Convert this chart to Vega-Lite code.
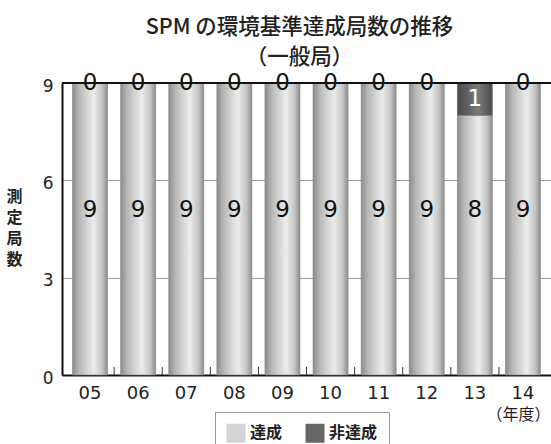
{
  "$schema": "https://vega.github.io/schema/vega-lite/v6.json",
  "width": 489,
  "height": 292,
  "autosize": "none",
  "padding": {"left": 62, "top": 83, "right": 0, "bottom": 69},
  "background": "white",
  "config": {
    "view": {"stroke": null},
    "font": "Noto Sans CJK JP",
    "axisX": {
      "labelAngle": 0, "labelFontSize": 18, "labelFont": "DejaVu Sans", "labelColor": "#222",
      "labelPadding": 9, "ticks": false, "domainColor": "#111", "domainWidth": 2, "zindex": 1, "grid": false,
      "titleX": 456, "titleY": 39, "titleAlign": "center", "titleBaseline": "middle",
      "titleFontSize": 16, "titleFontWeight": "normal", "titleColor": "#222", "titleFont": "Noto Sans CJK JP"
    },
    "axisY": {
      "titleAngle": 0, "titleX": -48, "titleY": 105, "titleAlign": "center", "titleBaseline": "top",
      "titleFontSize": 16, "titleFontWeight": "bold", "titleLineHeight": 21, "titleColor": "#222",
      "titleFont": "Noto Sans CJK JP",
      "ticks": false, "labelPadding": 9, "labelFontSize": 17, "labelOffset": 3,
      "labelFont": "DejaVu Sans", "labelColor": "#222",
      "grid": true, "gridColor": "#999", "gridWidth": 1, "domainColor": "#111", "domainWidth": 2, "zindex": 0
    }
  },
  "title": {
    "text": ["SPM の環境基準達成局数の推移", "（一般局）"],
    "fontSize": 21.5,
    "fontWeight": 500,
    "color": "#222",
    "lineHeight": 30,
    "anchor": "middle",
    "frame": "group",
    "dx": -7,
    "offset": 4,
    "font": "Noto Sans CJK JP"
  },
  "data": {
    "values": [
      {"year": "05", "type": "達成", "value": 9, "order": 1},
      {"year": "05", "type": "非達成", "value": 0, "order": 2},
      {"year": "06", "type": "達成", "value": 9, "order": 1},
      {"year": "06", "type": "非達成", "value": 0, "order": 2},
      {"year": "07", "type": "達成", "value": 9, "order": 1},
      {"year": "07", "type": "非達成", "value": 0, "order": 2},
      {"year": "08", "type": "達成", "value": 9, "order": 1},
      {"year": "08", "type": "非達成", "value": 0, "order": 2},
      {"year": "09", "type": "達成", "value": 9, "order": 1},
      {"year": "09", "type": "非達成", "value": 0, "order": 2},
      {"year": "10", "type": "達成", "value": 9, "order": 1},
      {"year": "10", "type": "非達成", "value": 0, "order": 2},
      {"year": "11", "type": "達成", "value": 9, "order": 1},
      {"year": "11", "type": "非達成", "value": 0, "order": 2},
      {"year": "12", "type": "達成", "value": 9, "order": 1},
      {"year": "12", "type": "非達成", "value": 0, "order": 2},
      {"year": "13", "type": "達成", "value": 8, "order": 1},
      {"year": "13", "type": "非達成", "value": 1, "order": 2},
      {"year": "14", "type": "達成", "value": 9, "order": 1},
      {"year": "14", "type": "非達成", "value": 0, "order": 2}
    ]
  },
  "layer": [
    {
      "mark": {"type": "bar"},
      "encoding": {
        "x": {
          "field": "year", "type": "nominal", "sort": null,
          "scale": {"paddingInner": 0.272, "paddingOuter": 0.219},
          "axis": {"title": "（年度）"}
        },
        "y": {
          "field": "value", "type": "quantitative", "stack": "zero",
          "scale": {"domain": [0, 9], "nice": false},
          "axis": {"title": ["測", "定", "局", "数"], "values": [0, 3, 6, 9]}
        },
        "color": {
          "field": "type", "type": "nominal",
          "scale": {"domain": ["達成", "非達成"], "range": ["#d4d4d4", "#666666"]},
          "legend": {
            "title": null, "orient": "none", "legendX": 153, "legendY": 329, "direction": "horizontal",
            "symbolType": "square", "symbolSize": 361, "symbolStrokeColor": "#888", "symbolStrokeWidth": 1,
            "labelFontSize": 16, "labelFontWeight": "bold", "labelFont": "Noto Sans CJK JP", "labelColor": "#222",
            "padding": 11, "strokeColor": "#999", "fillColor": "white", "columnPadding": 20, "labelOffset": 4,
            "encode": {
              "symbols": {
                "update": {
                  "fill": {"signal": "datum.value === '非達成' ? {gradient: 'linear', x1: 0, y1: 0, x2: 1, y2: 0, stops: [{offset: 0, color: '#4a4a4a'}, {offset: 0.6, color: '#7a7a7a'}, {offset: 1, color: '#4a4a4a'}]} : {gradient: 'linear', x1: 0, y1: 0, x2: 1, y2: 0, stops: [{offset: 0, color: '#8c8c8c'}, {offset: 0.2, color: '#b8b8b8'}, {offset: 0.6, color: '#ececec'}, {offset: 0.85, color: '#c4c4c4'}, {offset: 1, color: '#8c8c8c'}]}"}
                }
              }
            }
          }
        },
        "order": {"field": "order"}
      }
    },
    {
      "mark": {"type": "bar", "stroke": "#8a8a8a", "strokeWidth": 0.6},
      "encoding": {
        "x": {"field": "year", "type": "nominal", "sort": null},
        "y": {"field": "value", "type": "quantitative", "stack": "zero"},
        "detail": {"field": "type"},
        "order": {"field": "order"},
        "fill": {
          "condition": {
            "test": "datum.type === '非達成'",
            "value": {"gradient": "linear", "x1": 0, "x2": 1, "y1": 0, "y2": 0,
              "stops": [{"offset": 0, "color": "#4a4a4a"}, {"offset": 0.6, "color": "#7a7a7a"}, {"offset": 1, "color": "#4a4a4a"}]}
          },
          "value": {"gradient": "linear", "x1": 0, "x2": 1, "y1": 0, "y2": 0,
            "stops": [{"offset": 0, "color": "#8c8c8c"}, {"offset": 0.2, "color": "#b8b8b8"}, {"offset": 0.6, "color": "#ececec"}, {"offset": 0.85, "color": "#c4c4c4"}, {"offset": 1, "color": "#8c8c8c"}]}
        }
      }
    },
    {
      "transform": [{"filter": "datum.type === '達成' && datum.year !== '05'"}],
      "mark": {"type": "rule", "color": "#333", "strokeWidth": 1, "xOffset": -6.5},
      "encoding": {
        "x": {"field": "year", "type": "nominal", "sort": null, "bandPosition": 0},
        "y": {"datum": 0},
        "y2": {"datum": 0.25}
      }
    },
    {
      "mark": {"type": "rule", "color": "#111", "strokeWidth": 2},
      "encoding": {"y": {"datum": 9}}
    },
    {
      "mark": {"type": "text", "fontSize": 23, "font": "DejaVu Sans", "baseline": "middle", "align": "center"},
      "encoding": {
        "x": {"field": "year", "type": "nominal", "sort": null},
        "y": {"field": "value", "type": "quantitative", "stack": "zero", "bandPosition": 0.5},
        "detail": {"field": "type"},
        "order": {"field": "order"},
        "text": {"condition": {"test": "datum.type === '非達成'", "field": "value"}, "value": ""},
        "color": {"condition": {"test": "datum.value > 0", "value": "white"}, "value": "#111"}
      }
    },
    {
      "transform": [{"filter": "datum.type === '達成'"}],
      "mark": {"type": "text", "fontSize": 23, "font": "DejaVu Sans", "baseline": "middle", "align": "center", "color": "#111"},
      "encoding": {
        "x": {"field": "year", "type": "nominal", "sort": null},
        "y": {"datum": 5.1},
        "text": {"field": "value"}
      }
    }
  ]
}
